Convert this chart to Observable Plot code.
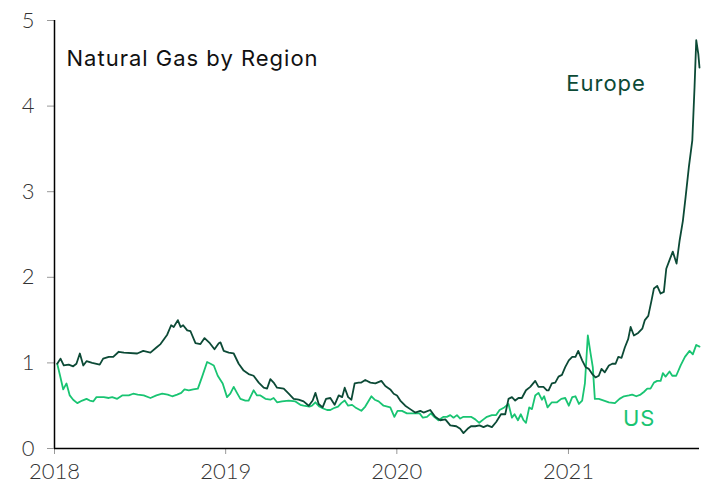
<!DOCTYPE html>
<html>
<head>
<meta charset="utf-8">
<script src="https://cdn.jsdelivr.net/npm/d3@7"></script>
<script src="https://cdn.jsdelivr.net/npm/@observablehq/plot@0.6"></script>
<style>
  html, body { margin: 0; padding: 0; background: #fff; }
  #chart { width: 707px; height: 488px; }
  g[aria-label="text"] text { letter-spacing: 1px; }
</style>
</head>
<body>
<div id="chart"></div>
<script>
// Decimal years and values
const europeYears = [2018.016,2018.035,2018.054,2018.083,2018.109,2018.128,2018.148,2018.168,2018.187,2018.220,2018.264,2018.284,2018.317,2018.343,2018.375,2018.405,2018.483,2018.518,2018.560,2018.595,2018.619,2018.658,2018.681,2018.696,2018.720,2018.736,2018.751,2018.775,2018.794,2018.823,2018.852,2018.876,2018.907,2018.934,2018.959,2018.969,2018.988,2019.018,2019.047,2019.076,2019.105,2019.134,2019.163,2019.193,2019.222,2019.242,2019.261,2019.280,2019.300,2019.339,2019.368,2019.397,2019.426,2019.455,2019.485,2019.508,2019.524,2019.543,2019.566,2019.586,2019.611,2019.636,2019.660,2019.680,2019.695,2019.715,2019.734,2019.753,2019.776,2019.792,2019.815,2019.845,2019.874,2019.909,2019.932,2019.961,2019.981,2020.001,2020.020,2020.049,2020.078,2020.107,2020.137,2020.156,2020.195,2020.224,2020.253,2020.283,2020.312,2020.347,2020.370,2020.389,2020.413,2020.433,2020.458,2020.483,2020.506,2020.529,2020.555,2020.580,2020.608,2020.633,2020.652,2020.672,2020.691,2020.710,2020.730,2020.754,2020.779,2020.808,2020.827,2020.856,2020.876,2020.886,2020.905,2020.925,2020.944,2020.964,2020.983,2021.002,2021.022,2021.041,2021.057,2021.080,2021.100,2021.119,2021.139,2021.158,2021.177,2021.193,2021.212,2021.236,2021.256,2021.275,2021.291,2021.310,2021.329,2021.349,2021.363,2021.382,2021.407,2021.431,2021.446,2021.466,2021.485,2021.499,2021.518,2021.538,2021.557,2021.571,2021.590,2021.609,2021.631,2021.649,2021.668,2021.684,2021.703,2021.723,2021.736,2021.746,2021.758,2021.765];
const europeValues = [0.99,1.05,0.97,0.98,0.96,0.99,1.11,0.97,1.02,1.00,0.98,1.05,1.07,1.07,1.13,1.12,1.11,1.14,1.12,1.18,1.22,1.33,1.44,1.42,1.50,1.42,1.44,1.38,1.37,1.23,1.22,1.29,1.23,1.16,1.23,1.24,1.14,1.12,1.11,0.99,0.91,0.87,0.85,0.77,0.71,0.70,0.81,0.77,0.71,0.70,0.64,0.58,0.57,0.55,0.50,0.56,0.65,0.52,0.48,0.58,0.59,0.51,0.62,0.60,0.71,0.60,0.57,0.76,0.77,0.77,0.80,0.77,0.76,0.79,0.73,0.69,0.64,0.62,0.56,0.50,0.46,0.42,0.44,0.42,0.45,0.37,0.33,0.34,0.27,0.26,0.23,0.18,0.23,0.26,0.26,0.27,0.25,0.27,0.25,0.31,0.40,0.40,0.58,0.60,0.56,0.59,0.59,0.68,0.72,0.79,0.72,0.72,0.68,0.68,0.76,0.77,0.84,0.86,0.95,1.03,1.07,1.07,1.14,1.03,0.95,0.93,0.87,0.83,0.85,0.93,0.89,0.97,0.99,0.99,1.07,1.06,1.18,1.28,1.42,1.32,1.35,1.40,1.50,1.55,1.73,1.87,1.90,1.81,1.83,2.10,2.20,2.30,2.16,2.43,2.66,2.94,3.29,3.60,4.22,4.77,4.61,4.45];

const usYears = [2018.016,2018.035,2018.051,2018.070,2018.089,2018.109,2018.133,2018.162,2018.187,2018.206,2018.226,2018.245,2018.288,2018.317,2018.337,2018.366,2018.395,2018.434,2018.459,2018.486,2018.521,2018.560,2018.595,2018.629,2018.661,2018.687,2018.716,2018.740,2018.759,2018.784,2018.810,2018.837,2018.862,2018.891,2018.911,2018.930,2018.953,2018.982,2019.008,2019.027,2019.047,2019.066,2019.086,2019.115,2019.134,2019.163,2019.183,2019.203,2019.232,2019.261,2019.280,2019.300,2019.329,2019.368,2019.407,2019.436,2019.455,2019.489,2019.504,2019.524,2019.547,2019.566,2019.592,2019.611,2019.630,2019.656,2019.675,2019.695,2019.715,2019.738,2019.757,2019.792,2019.815,2019.851,2019.870,2019.893,2019.922,2019.961,2019.985,2020.004,2020.030,2020.059,2020.098,2020.133,2020.152,2020.176,2020.199,2020.218,2020.243,2020.273,2020.292,2020.312,2020.331,2020.351,2020.370,2020.389,2020.413,2020.433,2020.458,2020.481,2020.506,2020.526,2020.555,2020.580,2020.600,2020.627,2020.652,2020.672,2020.687,2020.707,2020.724,2020.740,2020.754,2020.773,2020.789,2020.808,2020.827,2020.847,2020.860,2020.880,2020.905,2020.935,2020.960,2020.983,2021.002,2021.022,2021.041,2021.061,2021.080,2021.096,2021.113,2021.129,2021.142,2021.154,2021.177,2021.207,2021.236,2021.271,2021.298,2021.324,2021.353,2021.372,2021.396,2021.421,2021.440,2021.460,2021.479,2021.499,2021.518,2021.538,2021.551,2021.567,2021.590,2021.606,2021.629,2021.655,2021.680,2021.707,2021.726,2021.746,2021.765];
const usValues = [0.99,0.83,0.69,0.76,0.62,0.57,0.53,0.56,0.58,0.56,0.55,0.60,0.60,0.59,0.60,0.58,0.62,0.62,0.64,0.63,0.62,0.59,0.62,0.64,0.63,0.61,0.63,0.65,0.69,0.68,0.69,0.70,0.84,1.01,0.99,0.97,0.85,0.76,0.60,0.64,0.72,0.65,0.58,0.56,0.56,0.68,0.62,0.62,0.58,0.57,0.59,0.54,0.55,0.56,0.55,0.51,0.50,0.49,0.50,0.54,0.49,0.47,0.45,0.45,0.47,0.49,0.53,0.56,0.50,0.51,0.48,0.44,0.49,0.61,0.57,0.55,0.50,0.48,0.37,0.44,0.44,0.41,0.41,0.41,0.36,0.37,0.41,0.37,0.33,0.37,0.37,0.39,0.36,0.39,0.35,0.37,0.37,0.37,0.34,0.30,0.34,0.37,0.39,0.39,0.45,0.48,0.52,0.36,0.40,0.33,0.40,0.33,0.30,0.48,0.46,0.62,0.65,0.57,0.61,0.48,0.54,0.54,0.58,0.59,0.50,0.60,0.61,0.52,0.56,0.76,1.32,1.11,0.95,0.58,0.58,0.56,0.54,0.53,0.58,0.61,0.62,0.63,0.61,0.63,0.66,0.70,0.70,0.77,0.79,0.79,0.88,0.84,0.90,0.85,0.85,0.97,1.07,1.14,1.10,1.21,1.19];

const yTicks = [0, 1, 2, 3, 4, 5];
const xTickYears = [2018, 2019, 2020, 2021];
const titleText = "Natural Gas by Region";
const seriesLabels = [
  {name: "Europe", year: 2020.989, value: 4.26},
  {name: "US", year: 2021.318, value: 0.345}
];
const xStartYear = 2018;
const xEndYear = 2021.765;

const YEAR_MS = 365.25 * 86400000;
const toDate = (y) => {
  const yr = Math.floor(y);
  return new Date(Date.UTC(yr, 0, 1) + (y - yr) * YEAR_MS);
};

const europe = europeYears.map((y, i) => ({date: toDate(y), value: europeValues[i]}));
const us = usYears.map((y, i) => ({date: toDate(y), value: usValues[i]}));
const labels = seriesLabels.map(d => ({...d, date: toDate(d.year)}));

const EUROPE_COLOR = "#0c4a36";
const US_COLOR = "#19c472";
const TICK_FONT = "Lato, 'Open Sans', sans-serif";
const LABEL_FONT = "Inter, 'Open Sans', sans-serif";

const chart = Plot.plot({
  width: 707,
  height: 488,
  marginLeft: 54,
  marginRight: 8,
  marginTop: 20,
  marginBottom: 40,
  style: {fontFamily: TICK_FONT, background: "#fff", overflow: "visible"},
  x: {type: "utc", domain: [toDate(xStartYear), toDate(xEndYear)]},
  y: {domain: [0, 5]},
  marks: [
    Plot.axisY({ticks: yTicks, tickSize: 7, tickPadding: 13, fontSize: 22, fontWeight: 300, label: null, stroke: "#999", fill: "#333", tickFormat: d => String(d)}),
    Plot.axisX({ticks: xTickYears.map(y => new Date(Date.UTC(y, 0, 1))), tickSize: 6, tickPadding: 9, fontSize: 22, fontWeight: 300, label: null, stroke: "#999", fill: "#333", tickFormat: d3.utcFormat("%Y")}),
    Plot.ruleY([0], {stroke: "#000", strokeWidth: 1.5}),
    Plot.ruleX([toDate(xStartYear)], {stroke: "#000", strokeWidth: 1.5}),
    Plot.line(us, {x: "date", y: "value", stroke: US_COLOR, strokeWidth: 1.8, strokeLinejoin: "round"}),
    Plot.line(europe, {x: "date", y: "value", stroke: EUROPE_COLOR, strokeWidth: 1.8, strokeLinejoin: "round"}),
    Plot.text([titleText], {text: d => d, frameAnchor: "top-left", dx: 12, dy: 30, textAnchor: "start", fontSize: 22, fontFamily: LABEL_FONT, fill: "#111"}),
    Plot.text(labels, {x: "date", y: "value", text: "name", textAnchor: "start", fontSize: 22, fontFamily: LABEL_FONT, fill: d => d.name === "Europe" ? EUROPE_COLOR : US_COLOR})
  ]
});
document.getElementById("chart").appendChild(chart);
</script>
</body>
</html>
